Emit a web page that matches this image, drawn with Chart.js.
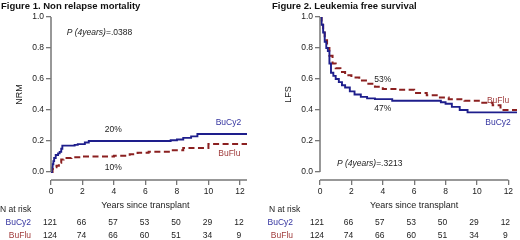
<!DOCTYPE html>
<html>
<head>
<meta charset="utf-8">
<script src="https://cdn.jsdelivr.net/npm/chart.js@4"></script>
<style>
  html, body { margin: 0; padding: 0; background: #fff; }
  .panel { position: absolute; top: 0; width: 260px; height: 240px; }
</style>
</head>
<body>
<div class="panel" style="left:0"><canvas id="nrmChart"></canvas></div>
<div class="panel" style="left:260px"><canvas id="lfsChart"></canvas></div>
<script>
// tick labels
const years = [0, 2, 4, 6, 8, 10, 12];
const yTicks = [0, 0.2, 0.4, 0.6, 0.8, 1.0];

// N at risk (same in both figures)
const riskBuCy2 = [121, 66, 57, 53, 50, 29, 12];
const riskBuFlu = [124, 74, 66, 60, 51, 34, 9];

// Figure 1 - non relapse mortality
const nrmBuCy2Time = [0, 0.05, 0.1, 0.15, 0.2, 0.3, 0.45, 0.55, 0.65, 0.72, 1.5, 1.7, 2.15, 2.4, 7.6, 8.0, 8.4, 8.9, 9.3, 12.45];
const nrmBuCy2Value = [0, 0.03, 0.05, 0.07, 0.09, 0.11, 0.12, 0.13, 0.15, 0.17, 0.175, 0.18, 0.19, 0.2, 0.205, 0.21, 0.22, 0.23, 0.245, 0.245];
const nrmBuFluTime = [0, 0.1, 0.2, 0.35, 0.5, 0.65, 0.8, 1.3, 2.0, 4.0, 5.0, 5.5, 6.2, 7.6, 8.4, 10.0, 12.45];
const nrmBuFluValue = [0, 0.02, 0.03, 0.04, 0.06, 0.08, 0.09, 0.095, 0.1, 0.105, 0.115, 0.125, 0.13, 0.14, 0.155, 0.18, 0.18];

// Figure 2 - leukemia free survival
const lfsBuCy2Time = [0, 0.1, 0.2, 0.3, 0.4, 0.5, 0.6, 0.7, 0.85, 1.0, 1.2, 1.4, 1.6, 1.9, 2.2, 2.6, 3.0, 3.5, 4.6, 7.7, 8.0, 8.4, 8.9, 9.4, 12.55];
const lfsBuCy2Value = [1.0, 0.95, 0.9, 0.84, 0.8, 0.78, 0.7, 0.64, 0.62, 0.6, 0.58, 0.56, 0.545, 0.52, 0.5, 0.485, 0.475, 0.47, 0.46, 0.45, 0.44, 0.42, 0.4, 0.385, 0.385];
const lfsBuFluTime = [0, 0.1, 0.2, 0.3, 0.45, 0.6, 0.8, 1.0, 1.3, 1.6, 2.0, 2.5, 3.0, 3.5, 4.0, 5.0, 6.0, 6.8, 7.5, 8.2, 9.2, 10.2, 11.0, 11.5, 12.55];
const lfsBuFluValue = [1.0, 0.95, 0.9, 0.85, 0.8, 0.75, 0.7, 0.67, 0.645, 0.625, 0.61, 0.59, 0.57, 0.55, 0.535, 0.53, 0.51, 0.495, 0.48, 0.47, 0.46, 0.447, 0.43, 0.4, 0.395];

const BLUE = '#1e1e8c';
const RED = '#8b2020';
const BLUE_TXT = '#3434a0';
const RED_TXT = '#a03c3c';
const AXIS = '#777';
const TXT = '#222';
const FONT = "'Liberation Sans', Arial, sans-serif";

const toPoints = (t, v) => t.map((x, i) => ({ x: x, y: v[i] }));

// titles, axis lines, annotations and at-risk table
const decorations = {
  id: 'decorations',
  afterDraw(chart, args, o) {
    const c = chart.ctx;
    const xs = chart.scales.x;
    const ys = chart.scales.y;
    const area = chart.chartArea;
    c.save();
    // axis lines (x axis sits a bit below y=0)
    c.strokeStyle = AXIS;
    c.lineWidth = 1.5;
    c.beginPath();
    c.moveTo(area.left, ys.getPixelForValue(1));
    c.lineTo(area.left, ys.getPixelForValue(0));
    c.moveTo(xs.getPixelForValue(0), area.bottom);
    c.lineTo(xs.getPixelForValue(o.axisEnd), area.bottom);
    c.stroke();

    c.textBaseline = 'middle';
    // figure title
    c.fillStyle = '#111';
    c.font = 'bold 9.5px ' + FONT;
    c.textAlign = 'left';
    c.fillText(o.title, o.titleX, 6);

    // y title
    c.fillStyle = TXT;
    c.font = '9px ' + FONT;
    c.save();
    c.translate(o.yTitleX, (ys.getPixelForValue(0) + ys.getPixelForValue(1)) / 2);
    c.rotate(-Math.PI / 2);
    c.textAlign = 'center';
    c.fillText(o.yTitle, 0, 0);
    c.restore();

    // x title
    c.textAlign = 'center';
    c.fillText('Years since transplant', xs.getPixelForValue(6), 206);

    // p value
    c.textAlign = 'left';
    let px = xs.getPixelForValue(o.pAt[0]);
    const py = ys.getPixelForValue(o.pAt[1]);
    c.font = 'italic 8.5px ' + FONT;
    c.fillText('P (4years)', px, py);
    px += c.measureText('P (4years)').width;
    c.font = '8.5px ' + FONT;
    c.fillText('=' + o.pValue, px, py);

    // in-plot labels
    c.textAlign = 'center';
    o.labels.forEach(l => {
      c.fillStyle = l.color;
      c.fillText(l.text, xs.getPixelForValue(l.x), ys.getPixelForValue(l.y));
    });

    // number at risk
    c.fillStyle = TXT;
    c.textAlign = 'left';
    c.fillText('N at risk', o.riskLabelX, 210);
    c.textAlign = 'right';
    c.fillStyle = BLUE_TXT;
    c.fillText('BuCy2', o.rowLabelRight, 223);
    c.fillStyle = RED_TXT;
    c.fillText('BuFlu', o.rowLabelRight, 236);
    c.textAlign = 'center';
    c.fillStyle = TXT;
    years.forEach((yr, i) => {
      const x = xs.getPixelForValue(yr) + o.riskShift;
      c.fillText(String(riskBuCy2[i]), x, 223);
      c.fillText(String(riskBuFlu[i]), x, 236);
    });
    c.restore();
  }
};

function buildChart(id, cfg) {
  const el = document.getElementById(id);
  if (!el) return null;
  return new Chart(el.getContext('2d'), {
    type: 'line',
    data: {
      datasets: [{
        label: 'BuCy2',
        data: toPoints(cfg.cy2Time, cfg.cy2Value),
        borderColor: BLUE,
        borderWidth: 1.9,
        stepped: true,
        pointRadius: 0,
        fill: false
      }, {
        label: 'BuFlu',
        data: toPoints(cfg.fluTime, cfg.fluValue),
        borderColor: RED,
        borderWidth: 2,
        borderDash: [6, 3.5],
        stepped: true,
        pointRadius: 0,
        fill: false
      }]
    },
    options: {
      responsive: true,
      maintainAspectRatio: false,
      animation: false,
      layout: { padding: { top: 17, right: cfg.padRight, bottom: 42, left: 0 } },
      scales: {
        x: {
          type: 'linear',
          min: 0,
          max: cfg.xMax,
          afterBuildTicks: s => { s.ticks = years.map(v => ({ value: v })); },
          afterFit: s => { s.height = 18; },
          border: { display: false },
          grid: { drawOnChartArea: false, tickLength: 5, color: AXIS, lineWidth: 1.3 },
          ticks: {
            autoSkip: false,
            maxRotation: 0,
            padding: 2,
            color: TXT,
            font: { family: FONT, size: 8.5 },
            callback: v => String(v)
          }
        },
        y: {
          type: 'linear',
          min: -0.0516,
          max: 1,
          afterBuildTicks: s => { s.ticks = yTicks.map(v => ({ value: v })); },
          afterFit: s => { s.width = cfg.yWidth; },
          border: { display: false },
          grid: { drawOnChartArea: false, tickLength: 5, color: AXIS, lineWidth: 1.3 },
          ticks: {
            padding: 2,
            color: TXT,
            font: { family: FONT, size: 8.5 },
            callback: v => v.toFixed(1)
          }
        }
      },
      plugins: {
        legend: { display: false },
        tooltip: { enabled: false },
        decorations: cfg.deco
      }
    },
    plugins: [decorations]
  });
}

buildChart('nrmChart', {
  cy2Time: nrmBuCy2Time, cy2Value: nrmBuCy2Value,
  fluTime: nrmBuFluTime, fluValue: nrmBuFluValue,
  xMax: 12.45, padRight: 13, yWidth: 51,
  deco: {
    title: 'Figure 1. Non relapse mortality', titleX: 1,
    yTitle: 'NRM', yTitleX: 20,
    axisEnd: 12.45,
    pAt: [1.0, 0.897], pValue: '.0388',
    riskLabelX: 0, rowLabelRight: 31, riskShift: -1,
    labels: [
      { text: '20%', x: 3.95, y: 0.27, color: TXT },
      { text: '10%', x: 3.95, y: 0.03, color: TXT },
      { text: 'BuCy2', x: 11.27, y: 0.316, color: BLUE_TXT },
      { text: 'BuFlu', x: 11.33, y: 0.116, color: RED_TXT }
    ]
  }
});

buildChart('lfsChart', {
  cy2Time: lfsBuCy2Time, cy2Value: lfsBuCy2Value,
  fluTime: lfsBuFluTime, fluValue: lfsBuFluValue,
  xMax: 12.55, padRight: 3, yWidth: 60,
  deco: {
    title: 'Figure 2. Leukemia free survival', titleX: 12,
    yTitle: 'LFS', yTitleX: 29,
    axisEnd: 12,
    pAt: [1.08, 0.052], pValue: '.3213',
    riskLabelX: 9, rowLabelRight: 33, riskShift: -3,
    labels: [
      { text: '53%', x: 4.0, y: 0.594, color: TXT },
      { text: '47%', x: 4.0, y: 0.406, color: TXT },
      { text: 'BuFlu', x: 11.34, y: 0.46, color: RED_TXT },
      { text: 'BuCy2', x: 11.34, y: 0.318, color: BLUE_TXT }
    ]
  }
});
</script>
</body>
</html>
